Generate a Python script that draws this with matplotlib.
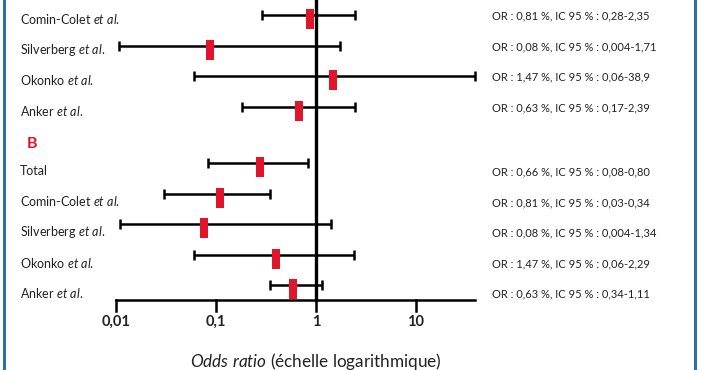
import matplotlib.pyplot as plt
from matplotlib.lines import Line2D

plt.rcParams['font.family'] = ['Lato', 'DejaVu Sans']
plt.rcParams['mathtext.fontset'] = 'custom'
plt.rcParams['mathtext.rm'] = 'Lato'
plt.rcParams['mathtext.it'] = 'Lato:italic'

# groupe A (haut, coupé) et groupe B
names_a = ["Comin-Colet", "Silverberg", "Okonko", "Anker"]
or_a = [0.87, 0.087, 1.47, 0.68]
low_a = [0.29, 0.0107, 0.06, 0.18]
high_a = [2.45, 1.74, 38.9, 2.45]
text_a = ["OR : 0,81 %, IC 95 % : 0,28-2,35",
          "OR : 0,08 %, IC 95 % : 0,004-1,71",
          "OR : 1,47 %, IC 95 % : 0,06-38,9",
          "OR : 0,63 %, IC 95 % : 0,17-2,39"]

names_b = ["Total", "Comin-Colet", "Silverberg", "Okonko", "Anker"]
or_b = [0.275, 0.11, 0.076, 0.40, 0.59]
low_b = [0.083, 0.030, 0.011, 0.06, 0.35]
high_b = [0.83, 0.35, 1.40, 2.40, 1.15]
text_b = ["OR : 0,66 %, IC 95 % : 0,08-0,80",
          "OR : 0,81 %, IC 95 % : 0,03-0,34",
          "OR : 0,08 %, IC 95 % : 0,004-1,34",
          "OR : 1,47 %, IC 95 % : 0,06-2,29",
          "OR : 0,63 %, IC 95 % : 0,34-1,11"]

ticks = [0.01, 0.1, 1, 10]
tick_labels = ["0,01", "0,1", "1", "10"]

red = "#e0142b"
blue = "#2f6fad"

fig = plt.figure(figsize=(7.02, 3.70), dpi=100)
ax = fig.add_axes([0, 0, 1, 1])
ax.set_xscale('log')
ax.set_xlim(10 ** (-316 / 100), 10 ** (386 / 100))
ax.set_ylim(370, 0)

ys_a = [15 + 30.7 * i for i in range(len(names_a))]
ys_b = [163 + 30.5 * i for i in range(len(names_b))]
marker_rect = [(-0.35, -1), (0.35, -1), (0.35, 1), (-0.35, 1), (-0.35, -1)]

def draw_rows(names, ors, lows, highs, texts, ys, dy_label, dy_text):
    for name, o, lo, hi, txt, y in zip(names, ors, lows, highs, texts, ys):
        ax.errorbar([o], [y], xerr=[[o - lo], [hi - o]], fmt='none',
                    ecolor='black', elinewidth=1.8, capsize=3.5, capthick=1.8, zorder=2)
        ax.plot([o], [y + 4], marker=marker_rect, markersize=14.5,
                color=red, markeredgewidth=0, linestyle='none', zorder=3)
        label = name if name == "Total" else name + r" $\mathit{et\ al.}$"
        ax.text(20 / 702, y + dy_label, label, transform=ax.get_yaxis_transform(),
                fontsize=9, va='center', ha='left', color='#222222')
        ax.text(492 / 702, y + dy_text, txt, transform=ax.get_yaxis_transform(),
                fontsize=8, va='center', ha='left', color='#222222')

draw_rows(names_a, or_a, low_a, high_a, text_a, ys_a, 4, 1)
draw_rows(names_b, or_b, low_b, high_b, text_b, ys_b, 8, 9)

ax.text(27 / 702, 144, "B", transform=ax.get_yaxis_transform(),
        fontsize=11.5, color=red, fontweight='bold', va='center', ha='left')

# ligne verticale OR = 1
ax.plot([1, 1], [-5, 300], color='black', lw=2.4, zorder=1)

# axe des x
ax.plot([0.01, 39], [300, 300], color='black', lw=1.8, zorder=1)
for t, lab in zip(ticks, tick_labels):
    ax.plot([t, t], [300, 311], color='black', lw=1.8)
    ax.text(t, 322, lab, ha='center', va='center', fontsize=10.5,
            fontweight='bold', color='#222222')

ax.text(1, 361, r"$\mathit{Odds\ ratio}$ (échelle logarithmique)", ha='center',
        va='center', fontsize=12.3, color='#222222')

ax.axis('off')

# cadre bleu
fig.add_artist(Line2D([4 / 702, 4 / 702], [0, 1], color=blue, lw=2.2))
fig.add_artist(Line2D([695 / 702, 695 / 702], [0, 1], color=blue, lw=2.2))

fig.savefig("out.png", dpi=100)
